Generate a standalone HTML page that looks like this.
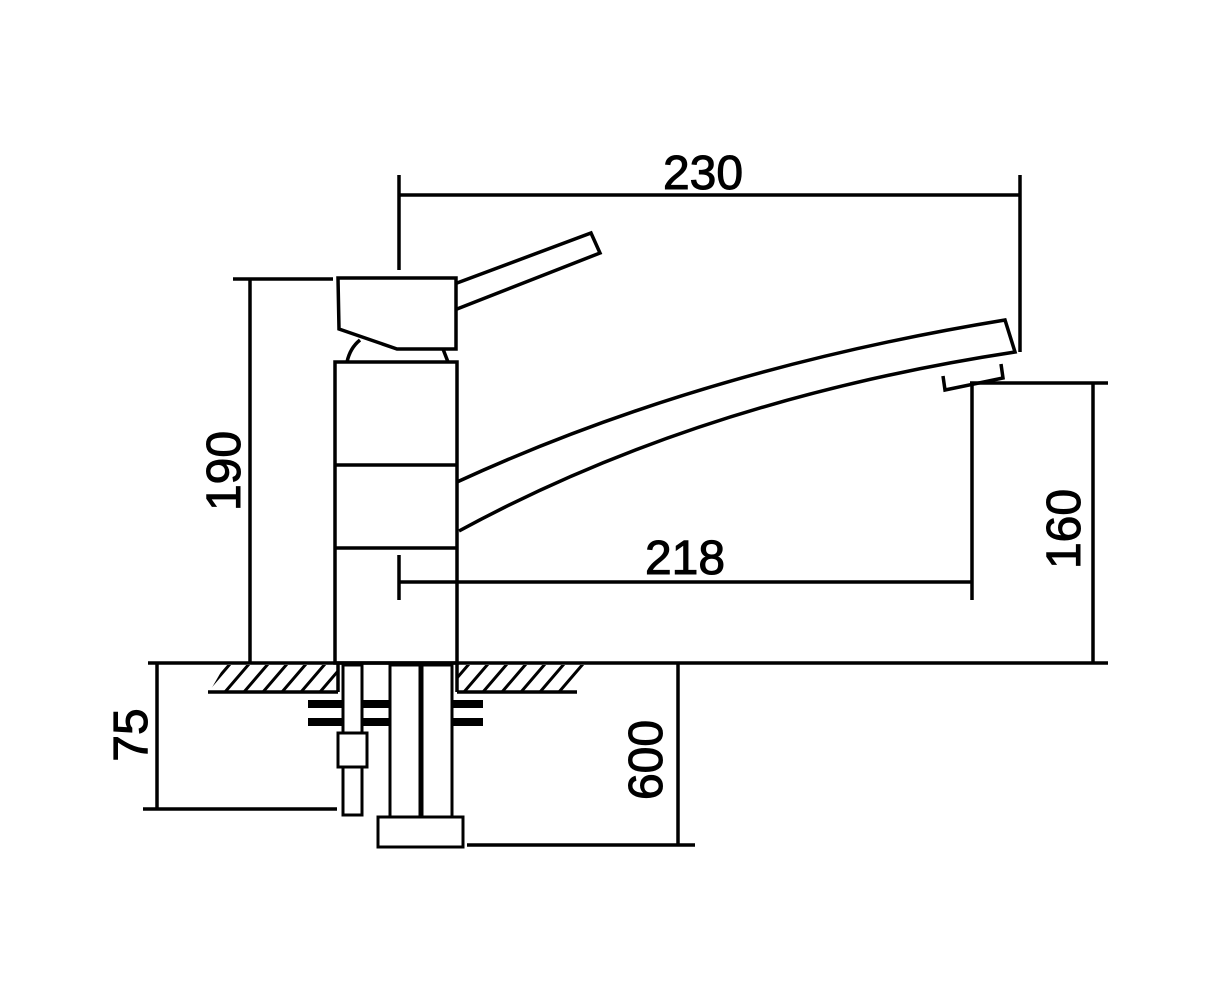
<!DOCTYPE html>
<html><head><style>body{margin:0;background:#fff}svg{display:block}</style></head><body>
<svg width="1223" height="1000" viewBox="0 0 1223 1000" xmlns="http://www.w3.org/2000/svg">
<defs>
<clipPath id="c1"><polygon points="225,665 338,665 338,691 210,691"/></clipPath>
<clipPath id="c2"><polygon points="457,665 585,665 565,691 457,691"/></clipPath>
</defs>
<g fill="none" stroke="#000" stroke-width="3.5">
<line x1="399" y1="175" x2="399" y2="270"/><line x1="1020" y1="175" x2="1020" y2="352"/><line x1="399" y1="195" x2="1020" y2="195"/>
<path d="M338 278 H456 V349 H397 L339 329 Z"/>
<path d="M457 283 L591 233 L600 253 L457 309"/>
<path d="M347 362 Q350 348 360 340"/><path d="M443 349 L448 362"/>
<rect x="335" y="362" width="122" height="301"/>
<line x1="335" y1="465" x2="457" y2="465"/><line x1="335" y1="548" x2="457" y2="548"/>
<path d="M457 482 Q700 370 1005 320 L1015 352 Q700 400 459 531"/>
<path d="M943 376 L945 390 L1003 378 L1001 364"/>
<line x1="233" y1="279" x2="333" y2="279"/><line x1="250" y1="279" x2="250" y2="663"/>
<line x1="970" y1="383" x2="1108" y2="383"/><line x1="1093" y1="383" x2="1093" y2="663"/>
<line x1="972" y1="385" x2="972" y2="600"/>
<line x1="399" y1="555" x2="399" y2="600"/><line x1="399" y1="582" x2="972" y2="582"/>
<line x1="148" y1="663" x2="1108" y2="663"/>
<g clip-path="url(#c1)" stroke-width="3">
<path d="M206 692 L230 664 M225 692 L249 664 M244 692 L268 664 M263 692 L287 664 M282 692 L306 664 M301 692 L325 664 M320 692 L344 664"/>
</g>
<g clip-path="url(#c2)" stroke-width="3">
<path d="M445 692 L469 664 M464 692 L488 664 M483 692 L507 664 M502 692 L526 664 M521 692 L545 664 M540 692 L564 664 M559 692 L583 664"/>
</g>
<line x1="208" y1="692" x2="338" y2="692"/><line x1="457" y1="692" x2="577" y2="692"/>
<line x1="338" y1="663" x2="338" y2="692"/><line x1="457" y1="663" x2="457" y2="692"/>
</g>
<g fill="#000"><rect x="308" y="700" width="175" height="8"/><rect x="308" y="718" width="175" height="8"/></g>
<g fill="#fff" stroke="#000" stroke-width="3">
<rect x="343" y="665" width="19" height="68"/><rect x="343" y="767" width="19" height="48"/>
<rect x="338" y="733" width="29" height="34"/>
<rect x="390" y="665" width="30" height="152"/><rect x="422" y="665" width="30" height="152"/>
<rect x="378" y="817" width="85" height="30"/>
</g>
<g fill="none" stroke="#000" stroke-width="3.5">
<line x1="157" y1="663" x2="157" y2="810"/><line x1="143" y1="809" x2="337" y2="809"/>
<line x1="678" y1="663" x2="678" y2="845"/><line x1="467" y1="845" x2="695" y2="845"/>
</g>
<g font-family="Liberation Sans, sans-serif" font-size="48" text-anchor="middle" fill="#000" stroke="#000" stroke-width="1">
<text x="703" y="189">230</text>
<text x="685" y="574">218</text>
<text transform="translate(240,471) rotate(-90)">190</text>
<text transform="translate(1080,529) rotate(-90)">160</text>
<text transform="translate(147,735) rotate(-90)">75</text>
<text transform="translate(662,760) rotate(-90)">600</text>
</g>
</svg>
</body></html>
